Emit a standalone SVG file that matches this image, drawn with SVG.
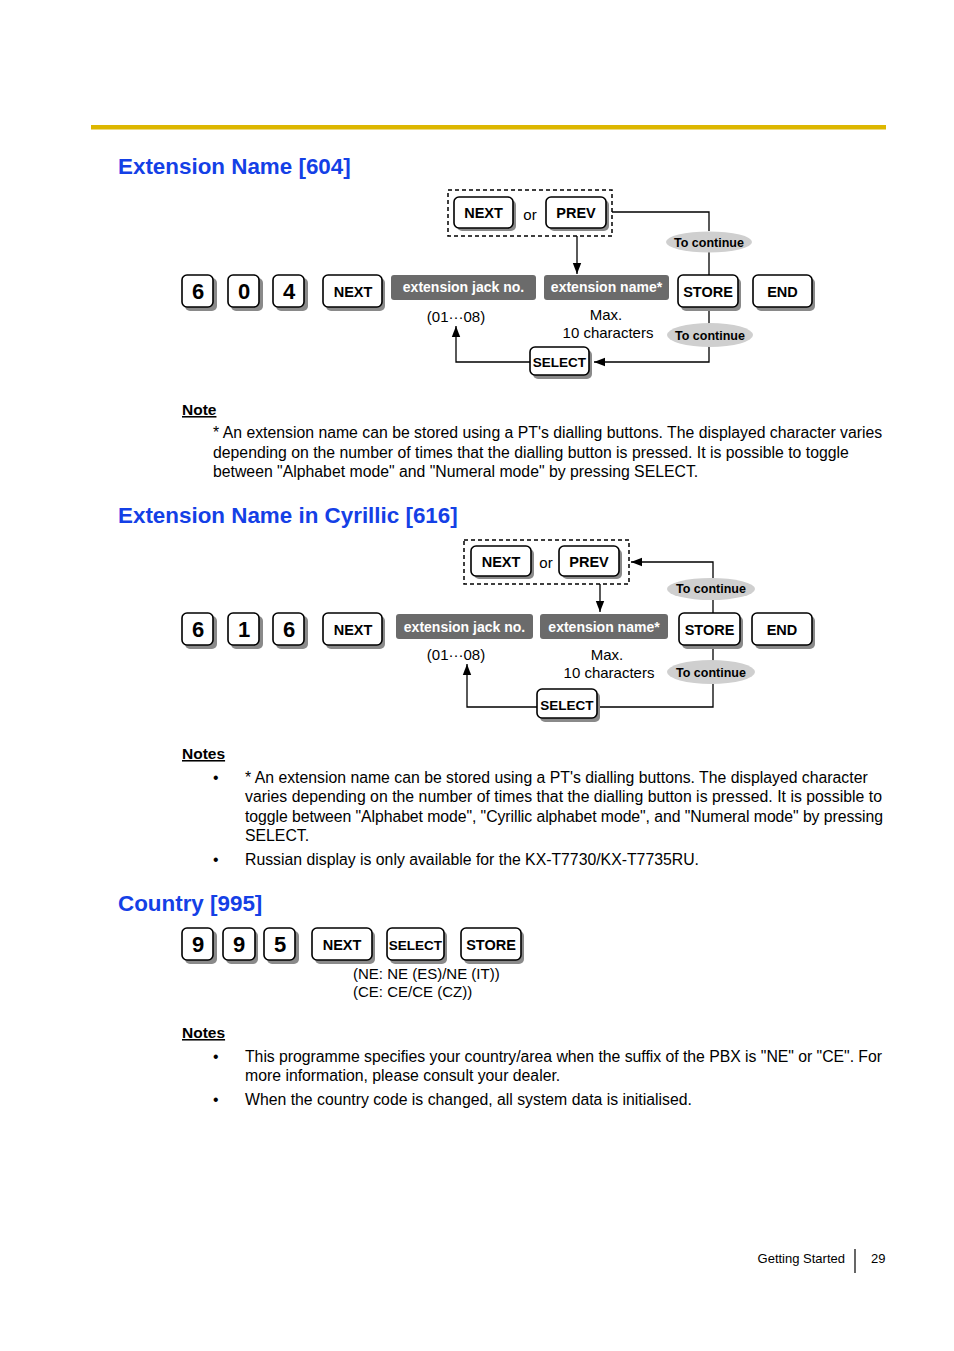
<svg xmlns="http://www.w3.org/2000/svg" width="954" height="1351" viewBox="0 0 954 1351">
<defs>
<style>
text{font-family:"Liberation Sans",Arial,sans-serif;fill:#000}
.title{font-size:22.4px;font-weight:bold;fill:#1440e6}
.btn rect.s{fill:#8a8a8a}
.btn rect.f{fill:#fff;stroke:#000;stroke-width:1.6}
.btn text{font-size:14.5px;font-weight:bold;text-anchor:middle}
.btn text.d{font-size:22px}
.btn text.sm{font-size:13.5px}
.disp rect{fill:#6b6b6b}
.disp text{fill:#fff;font-size:14px;font-weight:bold;text-anchor:middle}
.ell ellipse{fill:#cfcfcf}
.ell text{font-size:12.5px;font-weight:bold;text-anchor:middle}
.lbl{font-size:15px;text-anchor:middle}
.body{font-size:15.8px}
.hd{font-size:15.5px;font-weight:bold;text-decoration:underline}
.dash{fill:none;stroke:#000;stroke-width:1.5;stroke-dasharray:4 3}
.ln{fill:none;stroke:#000;stroke-width:1.3}
</style>
<marker id="ahl" viewBox="0 0 10 10" refX="10" refY="5" markerWidth="11" markerHeight="12" markerUnits="userSpaceOnUse" orient="auto"><path d="M0,1.2 L10,5 L0,8.8 z" fill="#000"/></marker>
</defs>
<rect width="954" height="1351" fill="#fff"/>
<rect x="91" y="125" width="795" height="4.5" fill="#ddb700"/>

<!-- Section 1 -->
<text class="title" x="118" y="174">Extension Name [604]</text>

<g id="conn1">
<polyline class="ln" points="612,212 709,212 709,231"/>
<line class="ln" x1="709" y1="252" x2="709" y2="275"/>
<line class="ln" x1="577" y1="236" x2="577" y2="274" marker-end="url(#ahl)"/>
<line class="ln" x1="709" y1="307" x2="709" y2="324"/>
<polyline class="ln" points="709,346 709,362 594,362" marker-end="url(#ahl)"/>
<polyline class="ln" points="530,362 456,362 456,326" marker-end="url(#ahl)"/>
</g>

<g id="s1-6" class="btn"><rect class="s" x="185" y="278" width="32" height="33" rx="5"/><rect class="f" x="182" y="275" width="31" height="32" rx="5"/><text class="d" x="198" y="299">6</text></g>
<g id="s1-0" class="btn"><rect class="s" x="231" y="278" width="32" height="33" rx="5"/><rect class="f" x="228" y="275" width="31" height="32" rx="5"/><text class="d" x="244" y="299">0</text></g>
<g id="s1-4" class="btn"><rect class="s" x="276" y="278" width="32" height="33" rx="5"/><rect class="f" x="273" y="275" width="31" height="32" rx="5"/><text class="d" x="289" y="299">4</text></g>
<g id="s1-next" class="btn"><rect class="s" x="326" y="278" width="59" height="33" rx="5"/><rect class="f" x="323" y="275" width="59" height="32" rx="5"/><text x="353" y="297">NEXT</text></g>
<g id="s1-jack" class="disp"><rect x="391" y="275" width="145" height="25" rx="3"/><text x="463.5" y="292">extension jack no.</text></g>
<g id="s1-name" class="disp"><rect x="544" y="275" width="125" height="25" rx="3"/><text x="606.5" y="292">extension name*</text></g>
<g id="s1-store" class="btn"><rect class="s" x="681" y="278" width="60" height="33" rx="5"/><rect class="f" x="678" y="275" width="60" height="32" rx="5"/><text x="708" y="297">STORE</text></g>
<g id="s1-end" class="btn"><rect class="s" x="756" y="278" width="59" height="33" rx="5"/><rect class="f" x="753" y="275" width="59" height="32" rx="5"/><text x="782.5" y="297">END</text></g>
<g id="s1-opt">
<rect class="dash" x="448" y="190" width="164" height="46"/>
<g class="btn"><rect class="s" x="457" y="200" width="59" height="31" rx="5"/><rect class="f" x="454" y="197" width="59" height="31" rx="5"/><text x="483.5" y="218">NEXT</text></g>
<text x="530" y="220" style="font-size:15px;text-anchor:middle">or</text>
<g class="btn"><rect class="s" x="549" y="200" width="60" height="31" rx="5"/><rect class="f" x="546" y="197" width="60" height="31" rx="5"/><text x="576" y="218">PREV</text></g>
</g>
<g id="s1-ell1" class="ell"><ellipse cx="709" cy="242" rx="43" ry="10.5"/><text x="709" y="246.5">To continue</text></g>
<g id="s1-ell2" class="ell"><ellipse cx="710" cy="335" rx="43" ry="12"/><text x="710" y="340">To continue</text></g>
<g id="s1-select" class="btn"><rect class="s" x="533" y="350" width="59" height="29" rx="5"/><rect class="f" x="530" y="347" width="59" height="28" rx="5"/><text class="sm" x="559.5" y="367">SELECT</text></g>
<text class="lbl" x="456" y="322">(01···08)</text>
<text class="lbl" x="606" y="320">Max.</text>
<text class="lbl" x="608" y="338">10 characters</text>

<text class="hd" x="182" y="415">Note</text>
<text class="body" x="213" y="438">* An extension name can be stored using a PT's dialling buttons. The displayed character varies</text>
<text class="body" x="213" y="458">depending on the number of times that the dialling button is pressed. It is possible to toggle</text>
<text class="body" x="213" y="477">between "Alphabet mode" and "Numeral mode" by pressing SELECT.</text>

<!-- Section 2 -->
<text class="title" x="118" y="523">Extension Name in Cyrillic [616]</text>

<g id="conn2">
<polyline class="ln" points="713,578 713,562 631,562" marker-end="url(#ahl)"/>
<line class="ln" x1="713" y1="599" x2="713" y2="613"/>
<line class="ln" x1="600" y1="584" x2="600" y2="612" marker-end="url(#ahl)"/>
<line class="ln" x1="713" y1="645" x2="713" y2="661"/>
<polyline class="ln" points="713,684 713,707 598,707"/>
<polyline class="ln" points="537,707 467,707 467,664" marker-end="url(#ahl)"/>
</g>

<g id="s2-6a" class="btn"><rect class="s" x="185" y="616" width="32" height="33" rx="5"/><rect class="f" x="182" y="613" width="31" height="32" rx="5"/><text class="d" x="198" y="637">6</text></g>
<g id="s2-1" class="btn"><rect class="s" x="231" y="616" width="32" height="33" rx="5"/><rect class="f" x="228" y="613" width="31" height="32" rx="5"/><text class="d" x="244" y="637">1</text></g>
<g id="s2-6b" class="btn"><rect class="s" x="276" y="616" width="32" height="33" rx="5"/><rect class="f" x="273" y="613" width="31" height="32" rx="5"/><text class="d" x="289" y="637">6</text></g>
<g id="s2-next" class="btn"><rect class="s" x="326" y="616" width="59" height="33" rx="5"/><rect class="f" x="323" y="613" width="59" height="32" rx="5"/><text x="353" y="635">NEXT</text></g>
<g id="s2-jack" class="disp"><rect x="396" y="614" width="137" height="25" rx="3"/><text x="464.5" y="632">extension jack no.</text></g>
<g id="s2-name" class="disp"><rect x="540" y="614" width="128" height="25" rx="3"/><text x="604" y="632">extension name*</text></g>
<g id="s2-store" class="btn"><rect class="s" x="682" y="616" width="61" height="33" rx="5"/><rect class="f" x="679" y="613" width="61" height="32" rx="5"/><text x="709.5" y="635">STORE</text></g>
<g id="s2-end" class="btn"><rect class="s" x="755" y="616" width="60" height="33" rx="5"/><rect class="f" x="752" y="613" width="60" height="32" rx="5"/><text x="782" y="635">END</text></g>
<g id="s2-opt">
<rect class="dash" x="464" y="540" width="165" height="44"/>
<g class="btn"><rect class="s" x="474" y="549" width="60" height="30" rx="5"/><rect class="f" x="471" y="546" width="60" height="30" rx="5"/><text x="501" y="567">NEXT</text></g>
<text x="546" y="568" style="font-size:15px;text-anchor:middle">or</text>
<g class="btn"><rect class="s" x="562" y="549" width="60" height="30" rx="5"/><rect class="f" x="559" y="546" width="60" height="30" rx="5"/><text x="589" y="567">PREV</text></g>
</g>
<g id="s2-ell1" class="ell"><ellipse cx="711" cy="589" rx="44" ry="11"/><text x="711" y="593">To continue</text></g>
<g id="s2-ell2" class="ell"><ellipse cx="711" cy="672" rx="44" ry="12"/><text x="711" y="677">To continue</text></g>
<g id="s2-select" class="btn"><rect class="s" x="540" y="692" width="60" height="30" rx="5"/><rect class="f" x="537" y="689" width="60" height="29" rx="5"/><text class="sm" x="567" y="710">SELECT</text></g>
<text class="lbl" x="456" y="660">(01···08)</text>
<text class="lbl" x="607" y="660">Max.</text>
<text class="lbl" x="609" y="678">10 characters</text>

<text class="hd" x="182" y="759">Notes</text>
<text class="body" x="213" y="783">•</text>
<text class="body" x="245" y="783">* An extension name can be stored using a PT's dialling buttons. The displayed character</text>
<text class="body" x="245" y="802" textLength="637" lengthAdjust="spacing">varies depending on the number of times that the dialling button is pressed. It is possible to</text>
<text class="body" x="245" y="822" textLength="638" lengthAdjust="spacing">toggle between "Alphabet mode", "Cyrillic alphabet mode", and "Numeral mode" by pressing</text>
<text class="body" x="245" y="841">SELECT.</text>
<text class="body" x="213" y="865">•</text>
<text class="body" x="245" y="865">Russian display is only available for the KX-T7730/KX-T7735RU.</text>

<!-- Section 3 -->
<text class="title" x="118" y="911">Country [995]</text>

<g id="s3-9a" class="btn"><rect class="s" x="185" y="931" width="32" height="33" rx="5"/><rect class="f" x="182" y="928" width="31" height="32" rx="5"/><text class="d" x="198" y="952">9</text></g>
<g id="s3-9b" class="btn"><rect class="s" x="226" y="931" width="32" height="33" rx="5"/><rect class="f" x="223" y="928" width="32" height="32" rx="5"/><text class="d" x="239" y="952">9</text></g>
<g id="s3-5" class="btn"><rect class="s" x="267" y="931" width="32" height="33" rx="5"/><rect class="f" x="264" y="928" width="31" height="32" rx="5"/><text class="d" x="280" y="952">5</text></g>
<g id="s3-next" class="btn"><rect class="s" x="315" y="931" width="60" height="33" rx="5"/><rect class="f" x="312" y="928" width="60" height="32" rx="5"/><text x="342" y="950">NEXT</text></g>
<g id="s3-select" class="btn"><rect class="s" x="390" y="931" width="57" height="33" rx="5"/><rect class="f" x="387" y="928" width="57" height="32" rx="5"/><text class="sm" x="415.5" y="950">SELECT</text></g>
<g id="s3-store" class="btn"><rect class="s" x="464" y="931" width="60" height="33" rx="5"/><rect class="f" x="461" y="928" width="60" height="32" rx="5"/><text x="491" y="950">STORE</text></g>
<text x="353" y="979" style="font-size:15px">(NE: NE (ES)/NE (IT))</text>
<text x="353" y="997" style="font-size:15px">(CE: CE/CE (CZ))</text>

<text class="hd" x="182" y="1038">Notes</text>
<text class="body" x="213" y="1062">•</text>
<text class="body" x="245" y="1062" textLength="637" lengthAdjust="spacing">This programme specifies your country/area when the suffix of the PBX is "NE" or "CE". For</text>
<text class="body" x="245" y="1081">more information, please consult your dealer.</text>
<text class="body" x="213" y="1105">•</text>
<text class="body" x="245" y="1105">When the country code is changed, all system data is initialised.</text>

<!-- Footer -->
<text x="845" y="1263" style="font-size:13px;text-anchor:end">Getting Started</text>
<line x1="855" y1="1249" x2="855" y2="1273" stroke="#000" stroke-width="1.2"/>
<text x="871" y="1263" style="font-size:13px">29</text>
</svg>
